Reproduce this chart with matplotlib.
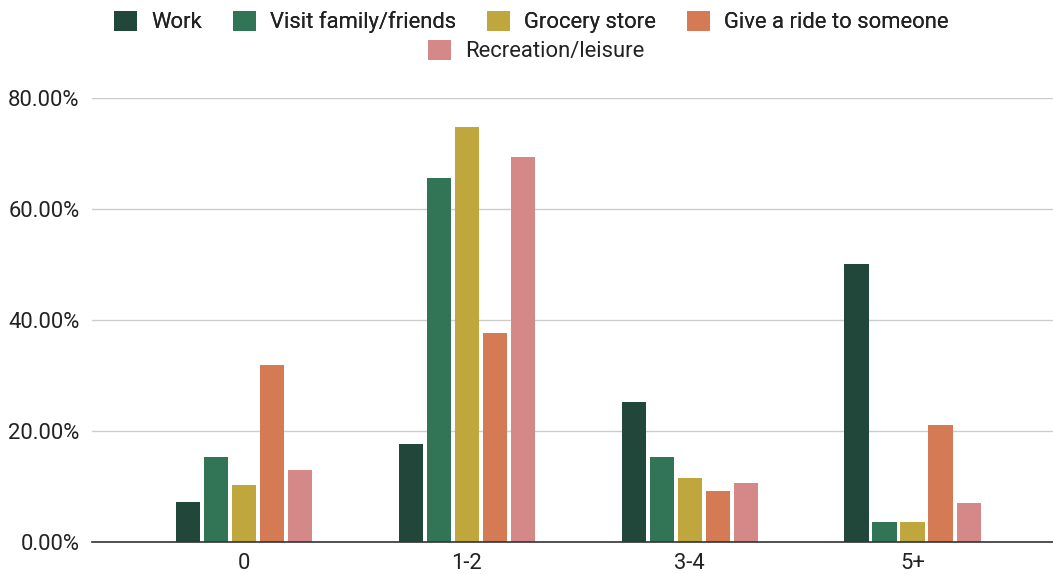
import numpy as np
from matplotlib import pyplot as plt
from matplotlib.patches import Patch

plt.rcParams['font.family'] = ['Roboto', 'DejaVu Sans']

categories = ['0', '1-2', '3-4', '5+']
series = ['Work', 'Visit family/friends', 'Grocery store', 'Give a ride to someone', 'Recreation/leisure']
work = [7.2, 17.7, 25.2, 50.1]
visit = [15.3, 65.6, 15.3, 3.6]
grocery = [10.3, 74.8, 11.5, 3.6]
ride = [31.9, 37.7, 9.2, 21.1]
recreation = [13.0, 69.4, 10.6, 7.0]
colors = ['#21473a', '#317556', '#bfa63d', '#d47a55', '#d48888']

values = [work, visit, grocery, ride, recreation]

fig = plt.figure(figsize=(10.53, 5.74), dpi=100)
ax = fig.add_axes([0.0874, 0.0557, 0.9126, 0.7735])

x = np.arange(len(categories))
pitch = 0.1256
width = 0.108
for i, (vals, c) in enumerate(zip(values, colors)):
    ax.bar(x + (i - 2) * pitch, vals, width, color=c, zorder=3)

ax.set_xlim(-0.68, 3.63)
ax.set_ylim(0, 80)
ax.set_yticks([0, 20, 40, 60, 80])
ax.set_yticklabels(['%.2f%%' % v for v in [0, 20, 40, 60, 80]])
ax.set_xticks(x)
ax.set_xticklabels(categories)
ax.yaxis.grid(True, color='#cccccc', linewidth=1, zorder=0)
for s in ['top', 'right', 'left']:
    ax.spines[s].set_visible(False)
ax.spines['bottom'].set_color('#333333')
ax.spines['bottom'].set_linewidth(1.2)
ax.spines['bottom'].set_zorder(4)
ax.tick_params(axis='both', length=0, labelsize=15.8, colors='#222222')
ax.tick_params(axis='y', pad=9)
ax.tick_params(axis='x', pad=8)

handles = [Patch(facecolor=c, label=s) for c, s in zip(colors, series)]
leg1 = fig.legend(handles=handles[:4], loc='center', bbox_to_anchor=(0.5048, 1 - 22 / 574),
                  ncol=4, frameon=False, fontsize=15.8, handlelength=1.05, handleheight=1.05,
                  columnspacing=1.41, handletextpad=0.64, labelcolor='#222222')
leg2 = fig.legend(handles=handles[4:], loc='center', bbox_to_anchor=(0.509, 1 - 51 / 574),
                  ncol=1, frameon=False, fontsize=15.8, handlelength=1.05, handleheight=1.05,
                  handletextpad=0.64, labelcolor='#222222')
fig.add_artist(leg1)

fig.savefig('out.png', dpi=100, facecolor='white')
